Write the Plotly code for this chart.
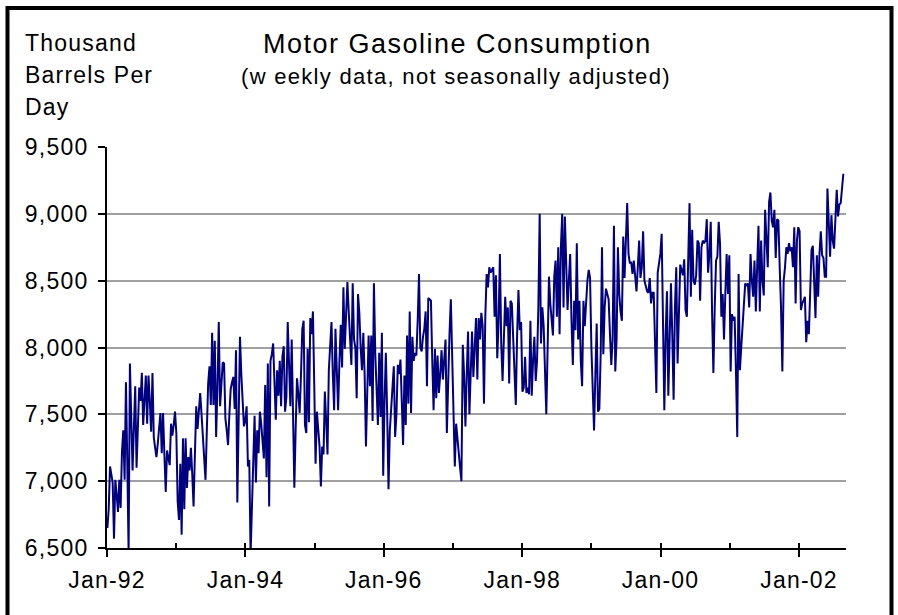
import pandas as pd
import plotly.graph_objects as go

# Weekly motor gasoline consumption (thousand barrels per day)
gas_1992 = [6650, 6790, 7110, 7050, 6990, 6570, 7010, 6900, 6770, 7010,
            6800, 7220, 7380, 7010, 7740, 7150, 6470, 7880, 7330, 7080,
            7400, 7710, 7100, 7400, 7700, 7600, 7810, 7420, 7600, 7790,
            7430, 7790, 7600, 7370, 7810, 7330, 7250, 7180, 7280, 7400,
            7510, 7210, 7510, 7200, 6920, 7230, 7180, 7120, 7430, 7340,
            7420, 7520]
gas_1993 = [7360, 6850, 6710, 7130, 6600, 7320, 6790, 7320, 6950, 7180,
            7080, 7250, 7050, 6810, 7200, 7560, 7390, 7500, 7660, 7500,
            7360, 7200, 7010, 7380, 7730, 7860, 7570, 8110, 7570, 8050,
            7330, 7700, 8190, 7560, 7750, 7890, 7880, 7470, 7380, 7270,
            7500, 7690, 7740, 7780, 7540, 7980, 6840, 7600, 8080, 7800,
            7560, 7410, 7450]
gas_1994 = [7560, 7110, 7160, 6450, 6800, 6990, 7490, 6990, 7380, 7210,
            7520, 7430, 7300, 7170, 7720, 7030, 7880, 6810, 7900, 7950,
            8030, 7750, 7460, 7830, 7640, 7900, 7560, 7930, 8010, 7520,
            7630, 8190, 7850, 7560, 8060, 7500, 6950, 7400, 7770, 7650,
            7510, 7800, 8140, 8200, 7420, 7360, 7990, 7440, 8220, 8100,
            8270, 7720]
gas_1995 = [7130, 7520, 7400, 7260, 6960, 7260, 7200, 7670, 7450, 7200,
            7830, 8000, 8190, 7800, 7530, 8140, 7800, 7530, 7900, 8170,
            7850, 8450, 7990, 8200, 8490, 8270, 8100, 7870, 8480, 8060,
            8000, 7620, 8400, 8260, 8000, 7830, 8110, 7800, 7260, 7700,
            8090, 7710, 8090, 7450, 8480, 7960, 7700, 7420, 7960, 7480,
            8110, 7040, 7600]
gas_1996 = [7960, 7500, 6940, 7380, 7510, 7700, 7860, 7330, 7500, 7870,
            7800, 7910, 7600, 7270, 7790, 7420, 8090, 7580, 8270, 7510,
            8080, 7900, 7960, 7940, 8200, 8550, 8000, 7970, 8080, 8140,
            8270, 7710, 8370, 8360, 8350, 7900, 7530, 7990, 7620, 7940,
            7660, 7800, 7980, 7760, 7900, 8060, 7360, 7810, 8100, 8360,
            7950, 7710]
gas_1997 = [7110, 7430, 7300, 7200, 7100, 7000, 8020, 7800, 7410, 7800,
            8120, 7500, 7800, 8120, 7780, 8000, 8220, 7760, 8220, 8060,
            8260, 8160, 7580, 8230, 8550, 8450, 8600, 8560, 8580, 8600,
            8230, 8540, 7920, 8180, 8700, 8030, 7750, 8100, 8380, 8160,
            8300, 7730, 8350, 8330, 8060, 7780, 7570, 8100, 8430, 8130,
            8190, 7670]
gas_1998 = [7700, 7930, 7660, 7700, 7650, 8200, 7640, 7900, 8080, 7750,
            7900, 8300, 9000, 8030, 8300, 8160, 7800, 7500, 8000, 8530,
            8330, 8230, 8090, 8530, 8650, 8230, 8750, 8100, 8750, 9000,
            8300, 8980, 8600, 8280, 8500, 8700, 8200, 7870, 8350, 8130,
            8780, 8060, 8350, 7900, 7710, 8350, 8160, 8350, 8500, 8580,
            8520, 8000, 7700]
gas_1999 = [7380, 7800, 8180, 7520, 7540, 7950, 8750, 7950, 8300, 8440,
            8400, 8360, 8100, 7870, 8060, 8910, 7820, 8060, 8750, 8400,
            8270, 8200, 8830, 8520, 8800, 9080, 8700, 8630, 8640, 8550,
            8650, 8500, 8420, 8600, 8800, 8520, 8600, 8870, 8500, 8460,
            8420, 8410, 8520, 8330, 8410, 8410, 8000, 7660, 8560, 8630,
            8700, 8850]
gas_2000 = [8200, 7530, 8100, 8420, 7640, 8000, 8480, 8100, 7610, 8300,
            8600, 7880, 8200, 8620, 8580, 8540, 8660, 8280, 8230, 8600,
            9080, 8380, 8880, 8500, 8470, 8540, 8800, 8780, 8350, 8750,
            8800, 8780, 8800, 8960, 8560, 8700, 8940, 8260, 7810, 8300,
            8650, 8680, 8940, 8780, 8230, 8400, 8060, 8400, 8700, 8400,
            8690, 7820, 8250]
gas_2001 = [8200, 8230, 7830, 7330, 8550, 7830, 8000, 8180, 8400, 8480,
            8460, 8480, 8300, 8700, 8500, 8380, 8650, 8270, 8600, 8910,
            8270, 8800, 8500, 8390, 9030, 8800, 8600, 9090, 9160, 8950,
            8900, 9030, 8670, 8960, 8950, 8600, 8300, 7820, 8500, 8600,
            8750, 8700, 8780, 8720, 8750, 8600, 8900, 8330, 8800, 8900,
            8870, 8280, 8330]
gas_2002 = [8350, 8380, 8040, 8200, 8100, 8400, 8730, 8760, 8500, 8220,
            8690, 8380, 8700, 8870, 8690, 8670, 8530, 8530, 9190, 8900,
            8680, 8990, 8800, 8740, 9000, 9180, 8980, 9070, 9080, 9180,
            9300]

consumption = (gas_1992 + gas_1993 + gas_1994 + gas_1995 + gas_1996 + gas_1997
               + gas_1998 + gas_1999 + gas_2000 + gas_2001 + gas_2002)
weeks = pd.date_range('1992-01-03', periods=len(consumption), freq='7D')

x_tick_dates = ['1992-01-01', '1994-01-01', '1996-01-01', '1998-01-01',
                '2000-01-01', '2002-01-01']
x_tick_labels = ['Jan-92', 'Jan-94', 'Jan-96', 'Jan-98', 'Jan-00', 'Jan-02']
y_tick_values = [6500, 7000, 7500, 8000, 8500, 9000, 9500]
y_tick_labels = ['6,500', '7,000', '7,500', '8,000', '8,500', '9,000', '9,500']

title_text = 'Motor Gasoline Consumption'
subtitle_text = '(w eekly data, not seasonally adjusted)'
unit_lines = ['Thousand', 'Barrels Per', 'Day']

W, H = 898, 615
L, R, T, B = 107, 52, 147, 67
PW, PH = W - L - R, H - T - B


def fx(px):
    return (px - L) / PW


def fy(py):
    return (H - B - py) / PH


def spaced(s, sp):
    return f'<span style="letter-spacing:{sp}px">{s}</span>'


FONT = 'Liberation Sans, Arial, sans-serif'
x_range = ['1992-01-01', '2002-09-06']

fig = go.Figure()
fig.add_trace(go.Scatter(x=weeks, y=consumption, mode='lines',
                         line=dict(color='#000080', width=2),
                         showlegend=False, hoverinfo='x+y'))
# empty trace so the overlay axis (yearly inside ticks) is drawn
fig.add_trace(go.Scatter(x=weeks[:1], y=[None], xaxis='x2', mode='lines',
                         showlegend=False, hoverinfo='skip'))

annotations = [
    dict(text=spaced(title_text, 1.5), x=fx(457), y=fy(44), xref='paper', yref='paper',
         xanchor='center', yanchor='middle', showarrow=False,
         font=dict(family=FONT, size=27, color='black')),
    dict(text=spaced(subtitle_text, 1.3), x=fx(456), y=fy(76), xref='paper', yref='paper',
         xanchor='center', yanchor='middle', showarrow=False,
         font=dict(family=FONT, size=22, color='black')),
]
for i, line in enumerate(unit_lines):
    annotations.append(dict(text=spaced(line, 1.2), x=fx(23), y=fy(43 + 32 * i),
                            xref='paper', yref='paper', xanchor='left', yanchor='middle',
                            showarrow=False, font=dict(family=FONT, size=23, color='black')))

fig.update_layout(
    width=W, height=H, autosize=False,
    margin=dict(l=L, r=R, t=T, b=B),
    paper_bgcolor='white', plot_bgcolor='white',
    font=dict(family=FONT, color='black'),
    xaxis=dict(type='date', range=x_range, tickmode='array', tickvals=x_tick_dates,
               ticktext=[spaced(t, 1.2) for t in x_tick_labels],
               ticks='outside', ticklen=7, tickwidth=2, tickcolor='black',
               showline=True, linecolor='black', linewidth=2, showgrid=False,
               zeroline=False, tickfont=dict(family=FONT, size=23, color='black'),
               ticklabelstandoff=3),
    xaxis2=dict(type='date', range=x_range, overlaying='x', anchor='y', side='bottom',
                tickmode='linear', tick0='1992-01-01', dtick='M12',
                ticks='inside', ticklen=5, tickwidth=2, tickcolor='black',
                showticklabels=False, showline=False, showgrid=False, zeroline=False),
    yaxis=dict(range=[6500, 9500], tickmode='array', tickvals=y_tick_values,
               ticktext=[spaced(t, 1.2) for t in y_tick_labels],
               ticks='outside', ticklen=7, tickwidth=2, tickcolor='black',
               showline=True, linecolor='black', linewidth=2,
               showgrid=True, gridcolor='#a0a0a0', gridwidth=2, zeroline=False,
               tickfont=dict(family=FONT, size=23, color='black'),
               ticklabelstandoff=5),
    annotations=annotations,
    shapes=[dict(type='rect', xref='paper', yref='paper',
                 x0=fx(7.5), x1=fx(891.5), y0=fy(640), y1=fy(8),
                 line=dict(color='black', width=4), layer='above')],
)

fig.write_html('out.html', config={'displayModeBar': False},
               post_script="document.body.style.margin='0px';"
               "document.body.style.overflow='hidden';")
